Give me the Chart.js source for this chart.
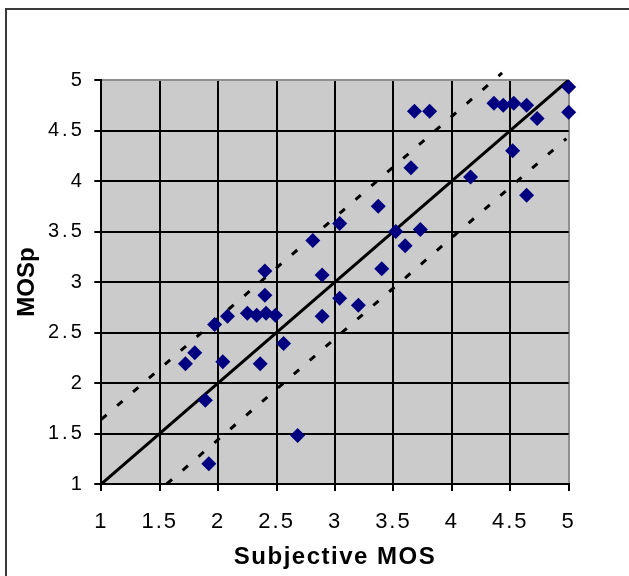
<!DOCTYPE html>
<html>
<head>
<meta charset="utf-8">
<script src="https://cdn.jsdelivr.net/npm/chart.js@4/dist/chart.umd.min.js"></script>
<style>
  html, body { margin: 0; padding: 0; background: #fff; overflow: hidden; }
  #wrap { position: relative; width: 629px; height: 576px; overflow: hidden; }
  #frame { position: absolute; left: 5px; top: 8px; width: 700px; height: 700px;
           border: 2px solid #3a3a3a; box-sizing: border-box; }
  canvas { position: absolute; left: 0; top: 0; }
</style>
</head>
<body>
<div id="wrap">
  <div id="frame"></div>
  <canvas id="chart" width="629" height="576"></canvas>
</div>
<script>
// Subjective MOS vs predicted MOS (MOSp), one point per test condition
const subjectiveMos = [1.72, 1.80, 1.97, 2.08, 2.04, 1.89, 1.92, 2.25, 2.33, 2.41,
                       2.49, 2.40, 2.40, 2.56, 2.36, 2.68, 2.81, 2.89, 2.89, 3.04,
                       3.04, 3.20, 3.37, 3.40, 3.52, 3.60, 3.73, 3.65, 3.68, 3.81,
                       4.16, 4.36, 4.44, 4.53, 4.64, 4.73, 4.52, 4.64, 5.00, 5.00];
const predictedMos = [2.19, 2.30, 2.58, 2.66, 2.21, 1.83, 1.20, 2.69, 2.67, 2.69,
                      2.67, 2.87, 3.11, 2.39, 2.19, 1.48, 3.41, 3.07, 2.66, 3.58,
                      2.84, 2.77, 3.75, 3.13, 3.50, 3.36, 3.52, 4.13, 4.69, 4.69,
                      4.04, 4.77, 4.75, 4.77, 4.75, 4.62, 4.30, 3.86, 4.93, 4.68];

// Ideal agreement line and the upper / lower tolerance bounds
const diagonalX = [1, 5];
const diagonalY = [1, 5];
const upperBoundX = [1, 4.43];
const upperBoundY = [1.64, 5.07];
const lowerBoundX = [1.56, 4.98];
const lowerBoundY = [1.0, 4.42];

// Axis ticks (shared by both axes)
const axisTicks = [1, 1.5, 2, 2.5, 3, 3.5, 4, 4.5, 5];
const axisTickLabels = ['1', '1.5', '2', '2.5', '3', '3.5', '4', '4.5', '5'];

const toPoints = (xs, ys) => xs.map((x, i) => ({ x: x, y: ys[i] }));

const plotBackground = {
  id: 'plotBackground',
  beforeDraw(chart) {
    const { ctx, chartArea: a } = chart;
    ctx.save();
    ctx.fillStyle = '#cbcbcb';
    ctx.fillRect(a.left, a.top, a.right - a.left, a.bottom - a.top);
    ctx.restore();
  }
};

// Wider character spacing for the axis texts
function spaced(scale, method, spacing) {
  const flag = '_spaced_' + method;
  if (scale[flag]) return;
  const orig = scale[method];
  scale[method] = function () {
    const ctx = this.ctx;
    const prev = ctx.letterSpacing;
    ctx.letterSpacing = spacing;
    orig.apply(this, arguments);
    ctx.letterSpacing = prev;
  };
  scale[flag] = true;
}
const textSpacing = {
  id: 'textSpacing',
  beforeDraw(chart) {
    spaced(chart.scales.x, 'drawLabels', '2px');
    spaced(chart.scales.y, 'drawLabels', '3px');
    spaced(chart.scales.x, 'drawTitle', '1.5px');
  }
};

const gridColor = (c) => (c.tick && c.tick.value === 5 ? '#8f8f8f' : '#000000');
const tickList = (scale) => { scale.ticks = axisTicks.map(v => ({ value: v })); };
const tickText = (value) => axisTickLabels[axisTicks.indexOf(value)];

new Chart(document.getElementById('chart'), {
  type: 'scatter',
  data: {
    datasets: [
      {
        label: 'MOSp',
        data: toPoints(subjectiveMos, predictedMos),
        pointStyle: 'rectRot',
        pointRadius: 7.5,
        pointBorderWidth: 0,
        backgroundColor: '#000080',
        borderColor: '#000080',
        clip: false,
        order: 0
      },
      {
        label: 'y = x',
        data: toPoints(diagonalX, diagonalY),
        showLine: true,
        pointRadius: 0,
        borderColor: '#000000',
        borderWidth: 3,
        order: 1
      },
      {
        label: 'upper bound',
        data: toPoints(upperBoundX, upperBoundY),
        showLine: true,
        pointRadius: 0,
        borderColor: '#000000',
        borderWidth: 3,
        borderDash: [7, 14],
        clip: false,
        order: 2
      },
      {
        label: 'lower bound',
        data: toPoints(lowerBoundX, lowerBoundY),
        showLine: true,
        pointRadius: 0,
        borderColor: '#000000',
        borderWidth: 3,
        borderDash: [7, 14],
        clip: false,
        order: 2
      }
    ]
  },
  options: {
    responsive: false,
    animation: false,
    events: [],
    layout: { padding: { left: 0, top: 80, right: 60.3, bottom: 0 } },
    plugins: { legend: { display: false }, tooltip: { enabled: false } },
    scales: {
      x: {
        type: 'linear',
        min: 1, max: 5,
        afterBuildTicks: tickList,
        afterFit: (s) => { s.height = 92; },
        grid: { color: gridColor, lineWidth: 2, tickLength: 7, tickColor: '#000', tickWidth: 2 },
        border: { display: true, color: '#000', width: 2 },
        ticks: {
          callback: tickText,
          autoSkip: false, maxRotation: 0,
          padding: 18,
          color: '#000',
          font: { family: '"Liberation Sans", Arial, sans-serif', size: 22 }
        },
        title: {
          display: true,
          text: 'Subjective MOS',
          color: '#000',
          padding: { top: 0, bottom: 4.6 },
          font: { family: '"Liberation Sans", Arial, sans-serif', size: 24, weight: 'bold' }
        }
      },
      y: {
        type: 'linear',
        min: 1, max: 5,
        afterBuildTicks: tickList,
        afterFit: (s) => { s.width = 101.3; },
        grid: { color: gridColor, lineWidth: 2, tickLength: 7, tickColor: '#000', tickWidth: 2 },
        border: { display: true, color: '#000', width: 2 },
        ticks: {
          callback: tickText,
          autoSkip: false,
          padding: 9.5,
          color: '#000',
          font: { family: '"Liberation Sans", Arial, sans-serif', size: 20 }
        },
        title: {
          display: true,
          text: 'MOSp',
          color: '#000',
          padding: { top: 13, bottom: 0 },
          font: { family: '"Liberation Sans", Arial, sans-serif', size: 24, weight: 'bold' }
        }
      }
    }
  },
  plugins: [plotBackground, textSpacing]
});
</script>
</body>
</html>
